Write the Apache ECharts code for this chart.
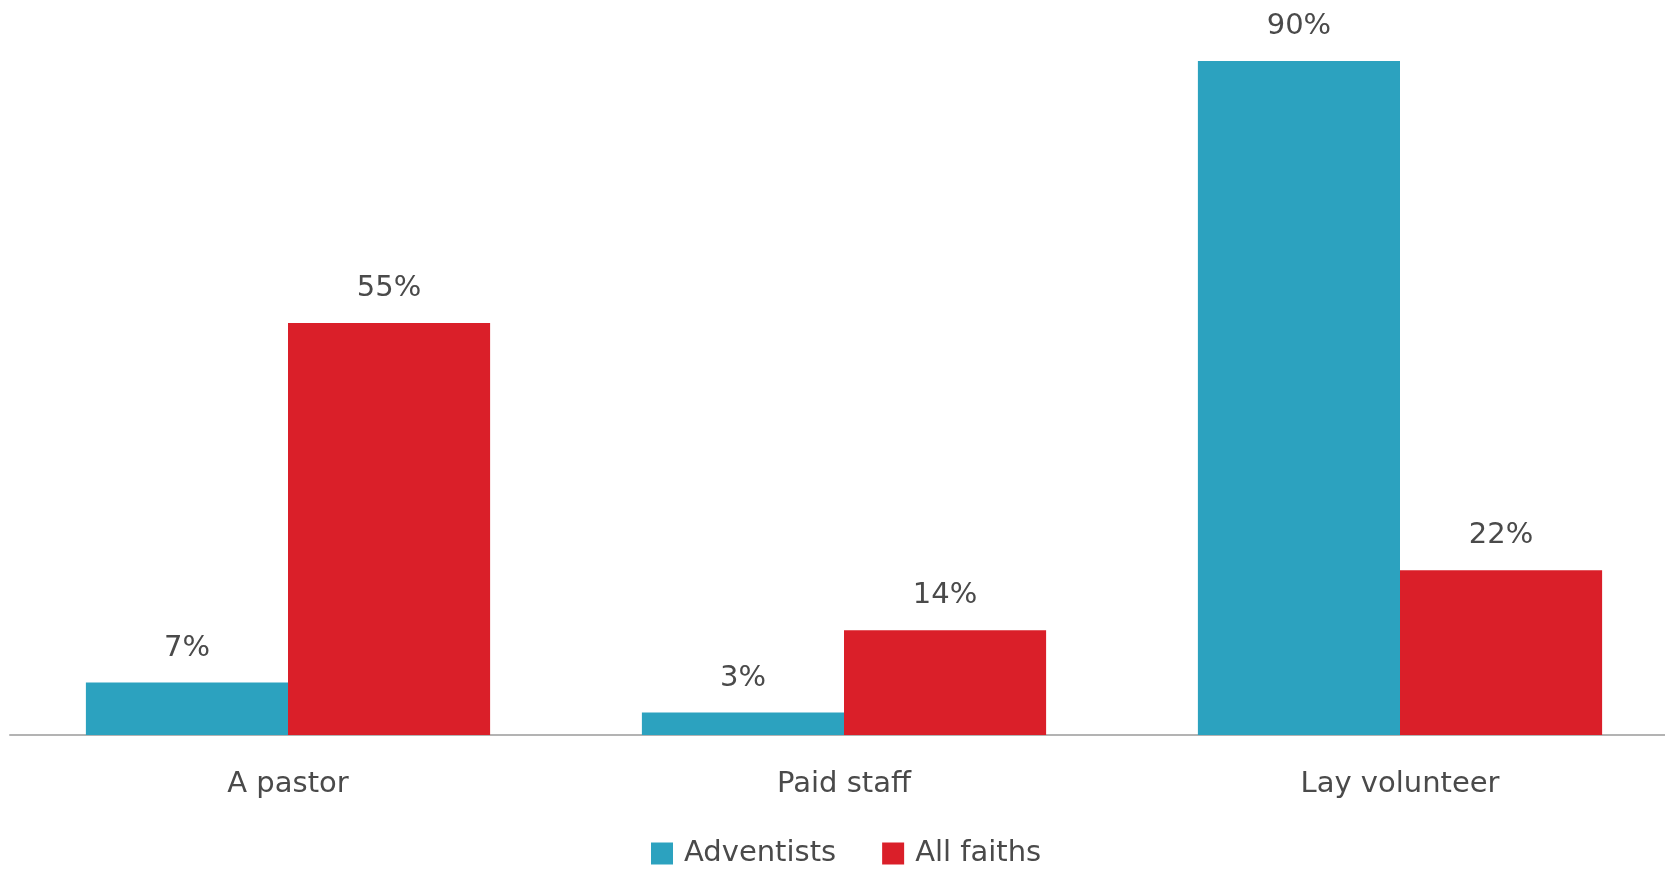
<!DOCTYPE html>
<html>
<head>
<meta charset="utf-8">
<script src="https://cdn.jsdelivr.net/npm/echarts@6/dist/echarts.min.js"></script>
<style>
  html, body { margin: 0; padding: 0; background: #fff; }
  #chart { width: 1665px; height: 871px; }
</style>
</head>
<body>
<div id="chart"></div>
<script>
// Who leads the congregation's worship, by group (percent)
const categories = ['A pastor', 'Paid staff', 'Lay volunteer'];
const adventists = [7, 3, 90];
const allFaiths = [55, 14, 22];
const seriesNames = ['Adventists', 'All faiths'];

const FONT = '"DejaVu Sans", "Noto Sans", sans-serif';
const TEXT = '#4a4a4a';

const chart = echarts.init(document.getElementById('chart'));

function barSeries(name, data, color) {
  return {
    name: name,
    type: 'bar',
    data: data,
    barGap: '0%',
    barCategoryGap: '27.3%',
    itemStyle: { color: color },
    label: {
      show: true,
      position: 'top',
      distance: 20,
      formatter: '{c}%',
      color: TEXT,
      fontFamily: FONT,
      fontSize: 29
    }
  };
}

chart.setOption({
  animation: false,
  // the plot runs past the right edge, so the last category is cut off
  grid: { left: 10, width: 1668, top: 61, bottom: 136, containLabel: false, outerBoundsMode: 'none' },
  legend: {
    left: 651,
    bottom: 3,
    padding: 0,
    itemWidth: 22,
    itemHeight: 22,
    itemGap: 46,
    icon: 'rect',
    textStyle: { color: TEXT, fontFamily: FONT, fontSize: 29, padding: [0, 0, 0, 6] },
    data: seriesNames
  },
  xAxis: {
    type: 'category',
    data: categories,
    axisLine: { lineStyle: { color: '#b3b3b3', width: 2 } },
    axisTick: { show: false },
    axisLabel: { color: TEXT, fontFamily: FONT, fontSize: 29, margin: 35 }
  },
  yAxis: {
    type: 'value',
    min: 0,
    max: 90,
    show: false
  },
  series: [
    barSeries(seriesNames[0], adventists, '#2ca2bf'),
    barSeries(seriesNames[1], allFaiths, '#da1f29')
  ]
});
</script>
</body>
</html>
